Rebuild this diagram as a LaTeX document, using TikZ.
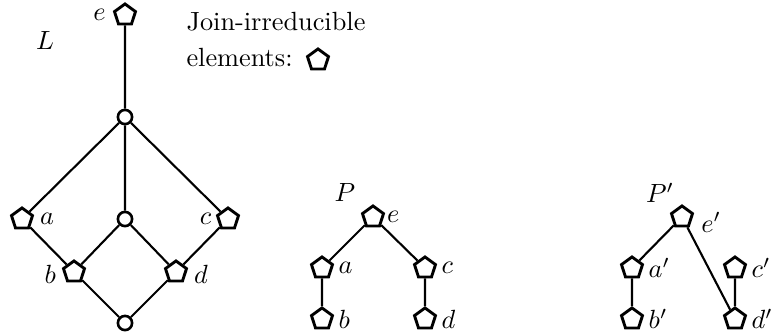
\documentclass[tikz,border=0pt]{standalone}
\usetikzlibrary{shapes.geometric}
\begin{document}
\begin{tikzpicture}[x=0.38pt,y=-0.38pt,
  ji/.style={regular polygon,regular polygon sides=5,draw,line width=1.1pt,inner sep=0pt,minimum size=8.4pt,fill=white},
  el/.style={circle,draw,line width=1.0pt,inner sep=0pt,minimum size=5.4pt,fill=white},
  lab/.style={inner sep=1pt},
  edge/.style={line width=0.8pt}]
\useasboundingbox (0,0) rectangle (773,334);
% L
\node (Llab) at (45,40) {$L$};
\node[ji] (e) at (125,15) {};
\node[el] (t) at (125,117) {};
\node[ji] (a) at (22,219) {};
\node[el] (m) at (125,219) {};
\node[ji] (c) at (228,219) {};
\node[ji] (b) at (74,272) {};
\node[ji] (d) at (176,272) {};
\node[el] (z) at (125,323) {};
\node[lab,anchor=east] (le) at ([xshift=-2pt]e.west) {$e$};
\node[lab,anchor=west] (la) at ([xshift=1.5pt]a.east) {$a$};
\node[lab,anchor=east] (lc) at ([xshift=-1pt]c.west) {$c$};
\node[lab,anchor=east] (lb) at ([xshift=-1.5pt,yshift=-1pt]b.west) {$b$};
\node[lab,anchor=west] (ld) at ([xshift=1.5pt,yshift=-1pt]d.east) {$d$};
\draw[edge] (e) -- (t) (t) -- (a) (t) -- (m) (t) -- (c)
  (a) -- (b) (m) -- (b) (m) -- (d) (c) -- (d) (b) -- (z) (d) -- (z);
% legend
\node[anchor=base west,inner sep=0pt] (j1) at (186,30) {Join-irreducible};
\node[anchor=base west,inner sep=0pt] (j2) at (186,66) {elements:};
\node[ji] (jl) at (318,60) {};
% P
\node (Plab) at (345,193) {$P$};
\node[ji] (pe) at (373,217) {};
\node[ji] (pa) at (322,268) {};
\node[ji] (pc) at (425,268) {};
\node[ji] (pb) at (322,319) {};
\node[ji] (pd) at (425,319) {};
\node[lab,anchor=west] (lpe) at (pe.east) {$e$};
\node[lab,anchor=west] (lpa) at ([xshift=1pt]pa.east) {$a$};
\node[lab,anchor=west] (lpc) at ([xshift=1pt]pc.east) {$c$};
\node[lab,anchor=west] (lpb) at ([xshift=1pt]pb.east) {$b$};
\node[lab,anchor=west] (lpd) at ([xshift=1pt]pd.east) {$d$};
\draw[edge] (pe) -- (pa) (pe) -- (pc) (pa) -- (pb) (pc) -- (pd);
% P'
\node (Qlab) at (660,193) {$P'$};
\node[ji] (qe) at (682,217) {};
\node[ji] (qa) at (632,268) {};
\node[ji] (qc) at (735,268) {};
\node[ji] (qb) at (632,319) {};
\node[ji] (qd) at (735,319) {};
\node[lab,anchor=west] (lqe) at ([xshift=2pt,yshift=-2pt]qe.east) {$e'$};
\node[lab,anchor=west] (lqa) at ([xshift=1pt]qa.east) {$a'$};
\node[lab,anchor=west] (lqc) at ([xshift=1pt]qc.east) {$c'$};
\node[lab,anchor=west] (lqb) at ([xshift=1pt]qb.east) {$b'$};
\node[lab,anchor=west] (lqd) at ([xshift=1pt]qd.east) {$d'$};
\draw[edge] (qe) -- (qa) (qe) -- (qd) (qa) -- (qb) (qc) -- (qd);
\end{tikzpicture}
\end{document}
